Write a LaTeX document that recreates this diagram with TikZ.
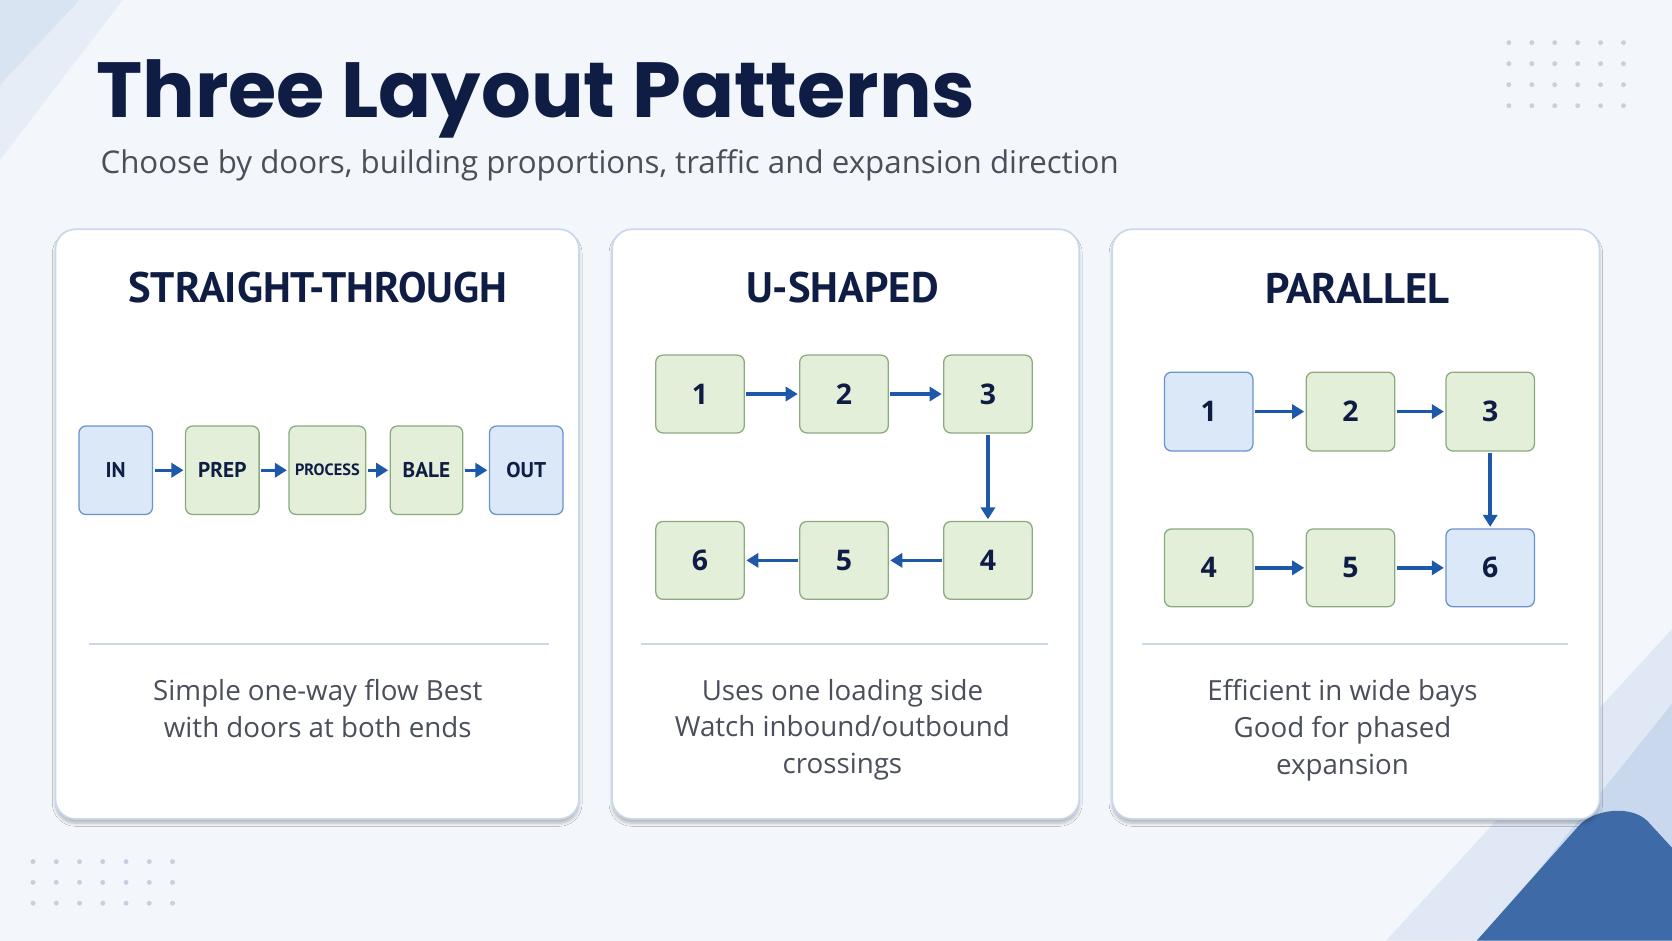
\documentclass[tikz,border=0pt]{standalone}
\usepackage{fontspec}
\setmainfont{Open Sans}
\newfontfamily\titlefont{Poppins}
\newfontfamily\headfont{PT Sans}
\usetikzlibrary{arrows.meta,shadows.blur}
\definecolor{bg}{HTML}{F3F6FA}
\definecolor{navy}{HTML}{0F1D45}
\definecolor{sub}{HTML}{4A4F5A}
\definecolor{gfill}{HTML}{E4EFDA}
\definecolor{gline}{HTML}{8CAA80}
\definecolor{bfill}{HTML}{DAE8F8}
\definecolor{bline}{HTML}{6E93CC}
\definecolor{arr}{HTML}{1E58A8}
\definecolor{deco1}{HTML}{C9D8EC}
\definecolor{deco2}{HTML}{3E6BA8}
\definecolor{dotc}{HTML}{C5D0E0}
\begin{document}
\begin{tikzpicture}[x=0.75pt,y=-0.75pt,
  card/.style={draw=deco1,line width=1.2pt,fill=white,rounded corners=14pt,blur shadow={shadow blur steps=8,shadow xshift=0pt,shadow yshift=-3pt,shadow opacity=25}},
  head/.style={font=\headfont\bfseries\fontsize{30}{33}\selectfont,text=navy},
  gbox/.style={draw=gline,fill=gfill,line width=0.9pt,rounded corners=5pt,font=\bfseries\fontsize{20}{22}\selectfont,text=navy,inner sep=0pt},
  bbox/.style={gbox,draw=bline,fill=bfill},
  sz/.style 2 args={minimum width=0.75*#1pt,minimum height=0.75*#2pt},
  sbox/.style={font=\headfont\bfseries\fontsize{15}{18}\selectfont},
  flow/.style={-{Triangle[length=8.5pt,width=10pt]},line width=2.4pt,draw=arr,shorten >=1pt,shorten <=1pt},
  desc/.style={font=\fontsize{19.5}{26}\selectfont,text=sub,align=center},
  sep/.style={draw=deco1,line width=1.2pt}]
\useasboundingbox (0,0) rectangle (1568,882);
\fill[bg] (0,0) rectangle (1568,882);
% decorations
\fill[deco1!70] (0,0) -- (75,0) -- (0,80) -- cycle;
\fill[deco1!45] (75,0) -- (115,0) -- (0,150) -- (0,80) -- cycle;
\fill[deco1!60] (1568,590) -- (1568,882) -- (1300,882) -- cycle;
\fill[deco1] (1568,660) -- (1568,882) -- (1390,882) -- cycle;
\fill[deco2] (1385,882) -- (1480,775) .. controls (1495,758) and (1530,755) .. (1545,770) -- (1568,795) -- (1568,882) -- cycle;
\foreach \i in {0,...,5} \foreach \j in {0,...,3} \fill[dotc] (1415+\i*21.5,40+\j*19.7) circle (2.3);
\foreach \i in {0,...,6} \foreach \j in {0,...,2} \fill[dotc] (31+\i*21.8,808+\j*19.5) circle (2.3);
% title
\node[anchor=base west,inner sep=0pt,text=navy,font=\titlefont\bfseries\fontsize{55}{60}\selectfont] (title) at (90,110) {Three Layout Patterns};
\node[anchor=base west,inner sep=0pt,text=sub,font=\fontsize{22}{26}\selectfont] (subt) at (94,163) {Choose by doors, building proportions, traffic and expansion direction};
% cards
\draw[card] (52,215) rectangle (543,768);
\draw[card] (574,215) rectangle (1012,768);
\draw[card] (1043,215) rectangle (1500,768);
\node[head] (h1) at (298,270) {STRAIGHT-THROUGH};
\node[head] (h2) at (790,270) {U-SHAPED};
\node[head] (h3) at (1273,270) {PARALLEL};
\draw[sep] (83,604) -- (515,604);
\draw[sep] (601,604) -- (983,604);
\draw[sep] (1071,604) -- (1470,604);
% card 1
\node[bbox,sbox,sz={69}{83}] (in) at (108.5,441) {IN};
\node[gbox,sbox,sz={69}{83}] (prep) at (208.5,441) {PREP};
\node[gbox,sz={72}{83},font=\headfont\bfseries\fontsize{11.5}{13}\selectfont] (proc) at (307,441) {PROCESS};
\node[gbox,sbox,sz={68}{83}] (bale) at (400,441) {BALE};
\node[bbox,sbox,sz={69}{83}] (out) at (493.5,441) {OUT};
\draw[flow] (in) -- (prep);
\draw[flow] (prep) -- (proc);
\draw[flow] (proc) -- (bale);
\draw[flow] (bale) -- (out);
% card 2
\node[gbox,sz={83}{73}] (u1) at (656.5,369.5) {1};
\node[gbox,sz={83}{73}] (u2) at (791.5,369.5) {2};
\node[gbox,sz={83}{73}] (u3) at (926.5,369.5) {3};
\node[gbox,sz={83}{73}] (u6) at (656.5,525.5) {6};
\node[gbox,sz={83}{73}] (u5) at (791.5,525.5) {5};
\node[gbox,sz={83}{73}] (u4) at (926.5,525.5) {4};
\draw[flow] (u1) -- (u2);
\draw[flow] (u2) -- (u3);
\draw[flow] (u3) -- (u4);
\draw[flow] (u4) -- (u5);
\draw[flow] (u5) -- (u6);
% card 3
\node[bbox,sz={83}{74}] (p1) at (1133.5,386) {1};
\node[gbox,sz={83}{74}] (p2) at (1266.5,386) {2};
\node[gbox,sz={83}{74}] (p3) at (1397.5,386) {3};
\node[gbox,sz={83}{73}] (p4) at (1133.5,532.5) {4};
\node[gbox,sz={83}{73}] (p5) at (1266.5,532.5) {5};
\node[bbox,sz={83}{73}] (p6) at (1397.5,532.5) {6};
\draw[flow] (p1) -- (p2);
\draw[flow] (p2) -- (p3);
\draw[flow] (p3) -- (p6);
\draw[flow] (p4) -- (p5);
\draw[flow] (p5) -- (p6);
% descriptions
\node[desc,anchor=north] (d1) at (298,632) {Simple one-way flow Best\\with doors at both ends};
\node[desc,anchor=north] (d2) at (790,632) {Uses one loading side\\Watch inbound/outbound\\crossings};
\node[desc,anchor=north] (d3) at (1259,632) {Efficient in wide bays\\Good for phased\\expansion};
\end{tikzpicture}
\end{document}
